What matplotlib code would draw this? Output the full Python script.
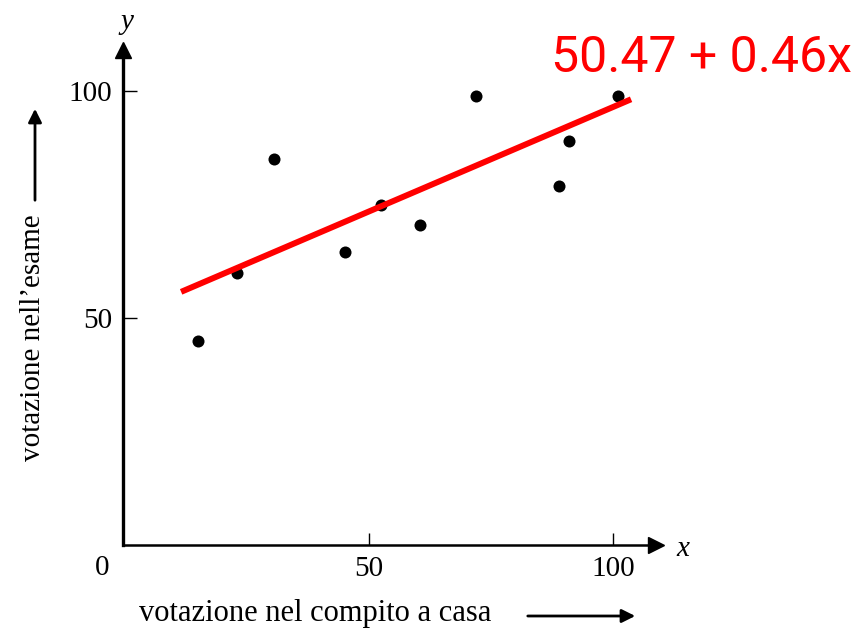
import numpy as np
import matplotlib.pyplot as plt
from matplotlib.patches import FancyArrowPatch

# punteggi: compito a casa (x) e esame (y)
homework = [15, 23, 30.5, 45, 52.5, 60.5, 72, 89, 91, 101]
exam = [45, 60, 85, 64.5, 75, 70.5, 99, 79, 89, 99]

# retta di regressione
intercept = 50.47
slope = 0.46
fit_range = [11.5, 103.7]

x_ticks = [50, 100]
y_ticks = [50, 100]

W, H = 857, 630
fig = plt.figure(figsize=(W / 100, H / 100), dpi=100)
serif = ["Liberation Serif", "DejaVu Serif"]

# assi: origine a (123, 545) px
ax = fig.add_axes([123 / W, (H - 545) / H, (656 - 123) / W, (545 - 50) / H])
ax.set_xlim(-0.41, (656 - 125) / 4.88)
ax.set_ylim(0, (545 - 50) / 4.54)

for side in ["top", "right"]:
    ax.spines[side].set_visible(False)
ax.spines["left"].set_linewidth(2.4)
ax.spines["bottom"].set_linewidth(1.8)

# frecce alla fine degli assi
ax.plot(1, 0, marker=">", ms=11, color="black", transform=ax.transAxes, clip_on=False)
ax.plot(0, 1, marker="^", ms=11, color="black", transform=ax.transAxes, clip_on=False)

ax.set_xticks(x_ticks)
ax.set_yticks(y_ticks)
ax.tick_params(axis="x", direction="in", length=9, width=1.0, pad=8, labelsize=21)
ax.tick_params(axis="y", direction="in", length=10, width=1.0, pad=8, labelsize=21)
for lab in ax.get_xticklabels() + ax.get_yticklabels():
    lab.set_family(serif)

ax.text(-23 / 4.88, -23 / 4.54, "0", family=serif, fontsize=21, ha="center", va="center",
        clip_on=False)

ax.scatter(homework, exam, s=75, color="black", zorder=3, linewidths=0)

xs = np.array(fit_range)
ax.plot(xs, intercept + slope * xs, color="#ff0000", lw=4.3, solid_capstyle="butt", zorder=4)

# nomi degli assi
fig.text(683 / W, 1 - 549 / H, "x", family=serif, style="italic", fontsize=21,
         ha="center", va="center")
fig.text(127 / W, 1 - 22 / H, "y", family=serif, style="italic", fontsize=21,
         ha="center", va="center")

fig.text(139 / W, 1 - 621 / H, "votazione nel compito a casa", family=serif, fontsize=22,
         ha="left", va="baseline")
fig.add_artist(FancyArrowPatch(
    (525 / W, 1 - 616 / H), (638 / W, 1 - 616 / H), transform=fig.transFigure,
    arrowstyle="-|>,head_length=8,head_width=4", lw=2, color="black"))

fig.text(33 / W, 1 - 338 / H, "votazione nell\u2019esame", family=serif, fontsize=21,
         rotation=90, ha="center", va="center")
fig.add_artist(FancyArrowPatch(
    (35 / W, 1 - 203 / H), (35 / W, 1 - 106 / H), transform=fig.transFigure,
    arrowstyle="-|>,head_length=8,head_width=4", lw=2, color="black"))

# equazione della retta
fig.text(852 / W, 1 - 72 / H, f"{intercept} + {slope}x", family=["Roboto", "DejaVu Sans"],
         fontsize=36, color="#ff0000", ha="right", va="baseline")

fig.savefig("out.png", dpi=100)
